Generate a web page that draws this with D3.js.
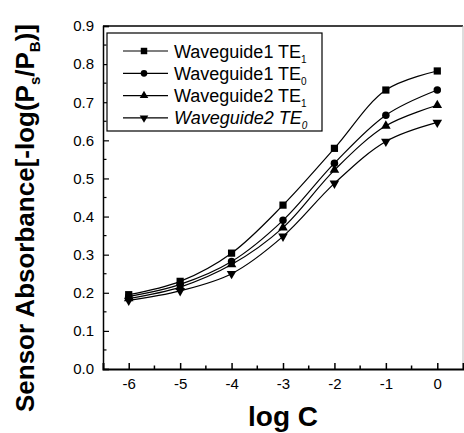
<!DOCTYPE html>
<html><head><meta charset="utf-8">
<script src="https://cdn.jsdelivr.net/npm/d3@7"></script>
<style>body{margin:0;background:#fff;}svg{display:block;font-family:Arial,"Liberation Sans",sans-serif;}</style>
</head><body><svg id="c" width="464" height="433"></svg>
<script>
const logC = [-6, -5, -4, -3, -2, -1, 0];
const wg1TE1 = [0.195, 0.230, 0.304, 0.430, 0.579, 0.732, 0.782];
const wg1TE0 = [0.190, 0.222, 0.282, 0.390, 0.540, 0.666, 0.732];
const wg2TE1 = [0.185, 0.215, 0.274, 0.371, 0.522, 0.638, 0.692];
const wg2TE0 = [0.180, 0.205, 0.250, 0.348, 0.487, 0.597, 0.647];
const xTicks = [-6, -5, -4, -3, -2, -1, 0];
const yTicks = [0.0, 0.1, 0.2, 0.3, 0.4, 0.5, 0.6, 0.7, 0.8, 0.9];

const series = [
  {name: "Waveguide1 TE", sub: "1", vals: wg1TE1, sym: d3.symbolSquare, size: 52, rot: 0, italic: false},
  {name: "Waveguide1 TE", sub: "0", vals: wg1TE0, sym: d3.symbolCircle, size: 44, rot: 0, italic: false},
  {name: "Waveguide2 TE", sub: "1", vals: wg2TE1, sym: d3.symbolTriangle, size: 40, rot: 0, italic: false},
  {name: "Waveguide2 TE", sub: "0", vals: wg2TE0, sym: d3.symbolTriangle, size: 40, rot: 180, italic: true}
];

const svg = d3.select("#c");
const L = 103, R = 463, T = 26, B = 369;
const x = d3.scaleLinear().domain([-6.5, 0.5]).range([L, R]);
const y = d3.scaleLinear().domain([0, 0.9]).range([B, T]);

// frame
svg.append("line").attr("x1", L).attr("x2", R).attr("y1", T).attr("y2", T).attr("stroke", "#000").attr("stroke-width", 1.5);
svg.append("line").attr("x1", R).attr("x2", R).attr("y1", T).attr("y2", B).attr("stroke", "#bbb").attr("stroke-width", 1);

// axes
const xAxis = d3.axisBottom(x).tickValues(xTicks).tickSize(-6).tickPadding(9).tickFormat(d3.format("d"));
const gx = svg.append("g").attr("transform", `translate(0,${B})`).call(xAxis);
gx.select(".domain").attr("stroke-width", 2);
gx.selectAll(".tick line").attr("stroke-width", 1.5);
gx.selectAll("text").attr("font-size", 15).attr("fill", "#000").text(d => d === 0 ? "0" : "-" + Math.abs(d));
// minor x ticks
svg.append("g").selectAll("line").data(d3.range(-5.5, 0.5, 1)).join("line")
  .attr("x1", d => x(d)).attr("x2", d => x(d)).attr("y1", B).attr("y2", B - 3.5)
  .attr("stroke", "#000").attr("stroke-width", 1.5);

const yAxis = d3.axisLeft(y).tickValues(yTicks).tickSize(-6).tickPadding(9).tickFormat(d3.format(".1f"));
const gy = svg.append("g").attr("transform", `translate(${L},0)`).call(yAxis);
gy.select(".domain").attr("stroke-width", 1.5);
gy.selectAll(".tick line").attr("stroke-width", 1.2);
gy.selectAll("text").attr("font-size", 15).attr("fill", "#000");
svg.append("g").selectAll("line").data(d3.range(0.05, 0.9, 0.1)).join("line")
  .attr("x1", L).attr("x2", L + 3.5).attr("y1", d => y(d)).attr("y2", d => y(d))
  .attr("stroke", "#000").attr("stroke-width", 1.2);

// lines
const line = d3.line().x((d, i) => x(logC[i])).y(d => y(d)).curve(d3.curveCatmullRom.alpha(0.5));
series.forEach(s => {
  svg.append("path").attr("d", line(s.vals)).attr("fill", "none").attr("stroke", "#000").attr("stroke-width", 1.2);
  svg.append("g").selectAll("path").data(s.vals).join("path")
    .attr("d", d3.symbol().type(s.sym).size(s.size))
    .attr("transform", (d, i) => `translate(${x(logC[i])},${y(d)}) rotate(${s.rot})`)
    .attr("fill", "#000");
});

// legend
const lg = svg.append("g");
lg.append("rect").attr("x", 107).attr("y", 33).attr("width", 215).attr("height", 98)
  .attr("fill", "#fff").attr("stroke", "#000").attr("stroke-width", 1.2);
series.forEach((s, i) => {
  const yy = 51 + i * 22.3;
  lg.append("line").attr("x1", 123).attr("x2", 168).attr("y1", yy).attr("y2", yy).attr("stroke", "#000").attr("stroke-width", 1.2);
  lg.append("path").attr("d", d3.symbol().type(s.sym).size(s.size * 0.8)).attr("transform", `translate(144,${yy}) rotate(${s.rot})`).attr("fill", "#000");
  const t = lg.append("text").attr("x", 174).attr("y", yy + 6.5).attr("font-size", 18).attr("fill", "#000")
    .attr("font-style", s.italic ? "italic" : "normal");
  t.append("tspan").text(s.name);
  t.append("tspan").attr("font-size", 10).attr("dy", 5).text(s.sub);
});

// axis titles
svg.append("text").attr("x", 283).attr("y", 426).attr("text-anchor", "middle").attr("font-size", 28).attr("font-weight", "bold").text("log C");
const yt = svg.append("text").attr("transform", "translate(34,218) rotate(-90)").attr("text-anchor", "middle")
  .attr("font-size", 26).attr("font-weight", "bold");
yt.append("tspan").text("Sensor Absorbance[-log(P");
yt.append("tspan").attr("font-size", 15).attr("dy", 6).text("s");
yt.append("tspan").attr("dy", -6).text("/P");
yt.append("tspan").attr("font-size", 15).attr("dy", 6).text("B");
yt.append("tspan").attr("dy", -6).text(")]");
</script></body></html>
